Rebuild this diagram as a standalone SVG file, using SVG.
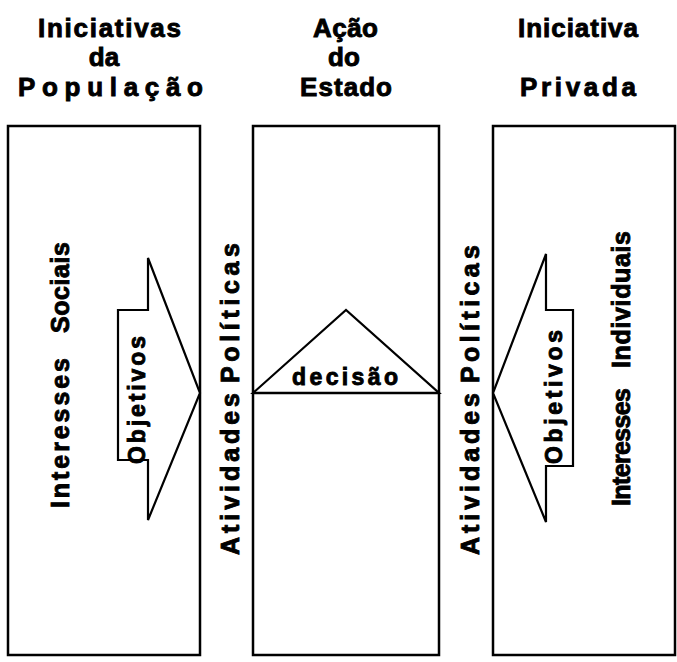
<svg xmlns="http://www.w3.org/2000/svg" width="677" height="662" viewBox="0 0 677 662">
<style>
  .title { font-family: "Liberation Sans", Arial, sans-serif; font-weight: bold; font-size: 26px; fill: #000; stroke: #000; stroke-width: 0.9; }
  .lbl { font-family: "Liberation Sans", Arial, sans-serif; font-weight: bold; font-size: 25px; fill: #000; stroke: #000; stroke-width: 0.9; }
  .small { font-size: 23px; }
  .box { fill: none; stroke: #000; stroke-width: 2.5; }
  .shape { fill: #fff; stroke: #000; stroke-width: 2.2; stroke-linejoin: miter; }
</style>
<rect width="677" height="662" fill="#fff"/>

<g id="titles">
  <text class="title" x="38" y="37" textLength="143" lengthAdjust="spacing">Iniciativas</text>
  <text class="title" x="104" y="66" text-anchor="middle">da</text>
  <text class="title" x="18" y="96" textLength="185" lengthAdjust="spacing">População</text>
  <text class="title" x="313" y="37" textLength="65" lengthAdjust="spacing">Ação</text>
  <text class="title" x="344" y="66" text-anchor="middle">do</text>
  <text class="title" x="300" y="96" textLength="92" lengthAdjust="spacing">Estado</text>
  <text class="title" x="518" y="37" textLength="120" lengthAdjust="spacing">Iniciativa</text>
  <text class="title" x="520" y="96" textLength="116" lengthAdjust="spacing">Privada</text>
</g>

<g id="populacao">
  <rect class="box" x="8" y="126" width="192" height="529"/>
  <text class="lbl" transform="translate(69,0) rotate(-90)">
    <tspan x="-508" y="0" textLength="150" lengthAdjust="spacing">Interesses</tspan>
    <tspan x="-333" y="0" textLength="91" lengthAdjust="spacing">Sociais</tspan>
  </text>
</g>

<g id="estado">
  <rect class="box" x="253" y="126" width="186" height="529"/>
  <polygon class="shape" points="253,393 346,310 439,393"/>
  <line x1="253" y1="393" x2="439" y2="393" stroke="#000" stroke-width="2.5"/>
  <text class="lbl small" x="345" y="385" text-anchor="middle" textLength="106" lengthAdjust="spacing">decisão</text>
</g>

<g id="privada">
  <rect class="box" x="493" y="126" width="182" height="529"/>
  <text class="lbl" transform="translate(630,0) rotate(-90)">
    <tspan x="-506" y="0" textLength="118" lengthAdjust="spacing">Interesses</tspan>
    <tspan x="-368" y="0" textLength="137" lengthAdjust="spacing">Individuais</tspan>
  </text>
</g>

<g id="connectors">
  <polygon id="arrow-left" class="shape" points="148,258 148,310 118,310 118,460 148,460 148,520 200,393"/>
  <text class="lbl small" transform="translate(145,464) rotate(-90)" textLength="128" lengthAdjust="spacing">Objetivos</text>
  <polygon id="arrow-right" class="shape" points="546,254 546,310 573,310 573,466 546,466 546,522 493,393"/>
  <text class="lbl small" transform="translate(562,464) rotate(-90)" textLength="134" lengthAdjust="spacing">Objetivos</text>
  <text class="lbl" transform="translate(239,555) rotate(-90)">
    <tspan x="0" y="0" textLength="162" lengthAdjust="spacing">Atividades</tspan>
    <tspan x="172" y="0" textLength="140" lengthAdjust="spacing">Políticas</tspan>
  </text>
  <text class="lbl" transform="translate(479,555) rotate(-90)">
    <tspan x="0" y="0" textLength="162" lengthAdjust="spacing">Atividades</tspan>
    <tspan x="172" y="0" textLength="138" lengthAdjust="spacing">Políticas</tspan>
  </text>
</g>
</svg>
